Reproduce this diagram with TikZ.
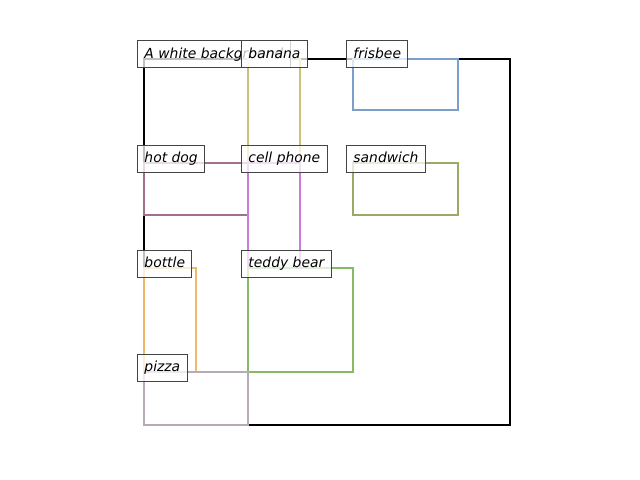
\documentclass[tikz,border=0pt]{standalone}
\usepackage{fontspec}
\setmainfont{DejaVu Sans}
\usepackage{xcolor}
\definecolor{bananacol}{RGB}{204,194,122}
\definecolor{phonecol}{RGB}{205,122,222}
\definecolor{frisbeecol}{RGB}{122,160,202}
\definecolor{hotdogcol}{RGB}{162,112,142}
\definecolor{sandwichcol}{RGB}{152,170,102}
\definecolor{bottlecol}{RGB}{236,186,106}
\definecolor{teddycol}{RGB}{136,186,102}
\definecolor{pizzacol}{RGB}{182,170,182}
\definecolor{tagedge}{RGB}{68,68,68}

\begin{document}
\begin{tikzpicture}[x=0.72pt, y=-0.72pt,
  region/.style={line width=1.6pt},
  tag/.style={rectangle,draw=tagedge,fill=white,fill opacity=0.75,text opacity=1,font=\itshape,inner xsep=5pt,inner ysep=4.7pt,text height=8pt,text depth=2pt,anchor=base west,line width=0.72pt}]
  \useasboundingbox (0,0) rectangle (640,480);

  % regions
  \draw[region,draw=black] (144,59) rectangle (510,425);
  \draw[region,draw=bananacol] (248,59) rectangle (300,163);
  \draw[region,draw=frisbeecol] (353,59) rectangle (458,110);
  \draw[region,draw=hotdogcol] (144,163) rectangle (248,215);
  \draw[region,draw=phonecol] (248,163) rectangle (300,268);
  \draw[region,draw=sandwichcol] (353,163) rectangle (458,215);
  \draw[region,draw=bottlecol] (144,268) rectangle (196,372);
  \draw[region,draw=teddycol] (248,268) rectangle (353,372);
  \draw[region,draw=pizzacol] (144,372) rectangle (248,425);

  % tags
  \node[tag] (background) at (137,58.5) {A white background};
  \node[tag] (banana) at (241,58.5) {banana};
  \node[tag] (frisbee) at (346,58.5) {frisbee};
  \node[tag] (hotdog) at (137,162.7) {hot dog};
  \node[tag] (phone) at (241,162.7) {cell phone};
  \node[tag] (sandwich) at (346,162.7) {sandwich};
  \node[tag] (bottle) at (137,267.7) {bottle};
  \node[tag] (teddy) at (241,267.7) {teddy bear};
  \node[tag] (pizza) at (137,371.7) {pizza};
\end{tikzpicture}
\end{document}
